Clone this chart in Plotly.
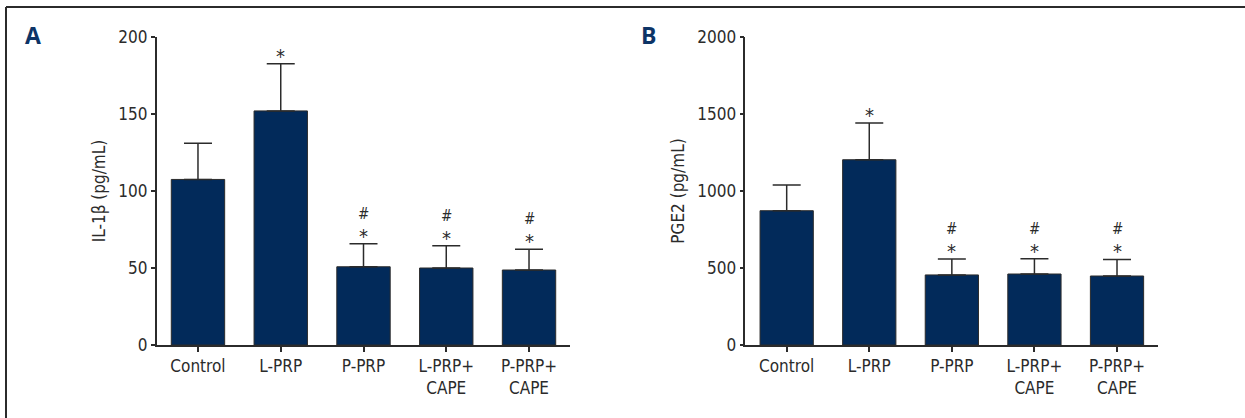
import plotly.graph_objects as go

# Treatment groups and tick labels
groups = ["Control", "L-PRP", "P-PRP", "L-PRP+CAPE", "P-PRP+CAPE"]
tick_text = ["Control", "L-PRP", "P-PRP", "L-PRP+<br>CAPE", "P-PRP+<br>CAPE"]

# Panel A: IL-1β (pg/mL), mean and SD
il1b_mean = [107.5, 152.0, 50.8, 50.0, 48.7]
il1b_sd = [23.5, 30.7, 15.0, 14.5, 13.4]
il1b_star = [False, True, True, True, True]
il1b_hash = [False, False, True, True, True]

# Panel B: PGE2 (pg/mL), mean and SD
pge2_mean = [872, 1203, 455, 461, 448]
pge2_sd = [167, 239, 103, 99, 108]
pge2_star = [False, True, True, True, True]
pge2_hash = [False, False, True, True, True]

FONT = "DejaVu Sans Condensed, Liberation Sans Narrow, Arial Narrow, sans-serif"
FS = 17
NAVY = "#022a5a"
INK = "#2b2b2b"
LABEL = "#0d3466"

W, H = 1245, 418

fig = go.Figure()


def add_panel(xa, ya, means, sds):
    fig.add_trace(go.Bar(
        x=list(range(len(groups))), y=means,
        xaxis=xa, yaxis=ya, width=0.645,
        marker=dict(color=NAVY, line=dict(color=INK, width=1)),
        error_y=dict(type="data", array=sds, arrayminus=[0] * len(sds),
                     symmetric=False, color=INK, thickness=1.5, width=14),
        showlegend=False, hoverinfo="skip",
    ))


add_panel("x", "y", il1b_mean, il1b_sd)
add_panel("x2", "y2", pge2_mean, pge2_sd)

xcommon = dict(
    range=[-0.5, 4.5], tickmode="array", tickvals=list(range(5)), ticktext=tick_text,
    showline=True, linecolor=INK, linewidth=1.5, ticks="outside", ticklen=5,
    tickwidth=1.5, tickcolor=INK, showgrid=False, zeroline=False, automargin=False,
    tickfont=dict(family=FONT, size=FS, color=INK), fixedrange=True,
)
ycommon = dict(
    showline=True, linecolor=INK, linewidth=1.5, ticks="outside", ticklen=4,
    tickwidth=1.5, tickcolor=INK, showgrid=False, zeroline=False, automargin=False,
    tickfont=dict(family=FONT, size=FS, color=INK), fixedrange=True,
)

y_dom = [1 - 345 / H, 1 - 37 / H]
fig.update_layout(
    width=W, height=H, margin=dict(l=0, r=0, t=0, b=0, autoexpand=False),
    paper_bgcolor="white", plot_bgcolor="white",
    xaxis=dict(domain=[156.6 / W, 570.4 / W], anchor="y", **xcommon),
    yaxis=dict(domain=y_dom, range=[0, 200], tickvals=[0, 50, 100, 150, 200], anchor="x",
               title=dict(text="IL-1β (pg/mL)", font=dict(family=FONT, size=FS, color=INK),
                          standoff=8),
               **ycommon),
    xaxis2=dict(domain=[745.4 / W, 1158.3 / W], anchor="y2", **xcommon),
    yaxis2=dict(domain=y_dom, range=[0, 2000], tickvals=[0, 500, 1000, 1500, 2000],
                anchor="x2",
                title=dict(text="PGE2 (pg/mL)", font=dict(family=FONT, size=FS, color=INK),
                           standoff=8),
                **ycommon),
)

# Significance marks above the error bars: * vs control, # vs L-PRP
for xa, ya, means, sds, stars, hashes in [
        ("x", "y", il1b_mean, il1b_sd, il1b_star, il1b_hash),
        ("x2", "y2", pge2_mean, pge2_sd, pge2_star, pge2_hash)]:
    for i in range(len(groups)):
        top = means[i] + sds[i]
        if stars[i]:
            fig.add_annotation(x=i, y=top, xref=xa, yref=ya, text="*", showarrow=False,
                               yanchor="bottom", yshift=-6,
                               font=dict(family=FONT, size=20, color=INK))
        if hashes[i]:
            fig.add_annotation(x=i, y=top, xref=xa, yref=ya, text="#", showarrow=False,
                               yanchor="bottom", yshift=19,
                               font=dict(family=FONT, size=15, color=INK))

# Panel letters
for letter, px in [("A", 33), ("B", 649)]:
    fig.add_annotation(
        x=px / W, y=1 - 35 / H, xref="paper", yref="paper", text=f"<b>{letter}</b>",
        showarrow=False, xanchor="center", yanchor="middle",
        font=dict(family="Open Sans, Liberation Sans, Arial, sans-serif", size=23, color=LABEL),
    )

# Frame rules along the top and left edges
fig.add_shape(type="line", xref="paper", yref="paper", x0=6 / W, x1=1, y0=1 - 7 / H, y1=1 - 7 / H,
              line=dict(color=INK, width=2))
fig.add_shape(type="line", xref="paper", yref="paper", x0=6 / W, x1=6 / W, y0=0, y1=1 - 7 / H,
              line=dict(color=INK, width=2))

fig.write_html("out.html")
